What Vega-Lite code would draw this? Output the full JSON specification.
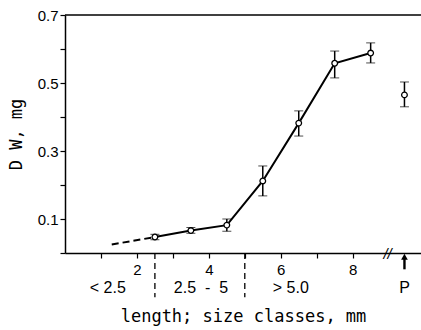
{
  "$schema": "https://vega.github.io/schema/vega-lite/v6.json",
  "width": 356,
  "height": 238,
  "autosize": "none",
  "padding": {"left": 65, "top": 15, "right": 0, "bottom": 77},
  "background": "white",
  "resolve": {"axis": {"x": "independent", "y": "independent"}},
  "config": {
    "view": {"stroke": null},
    "font": "Liberation Sans",
    "axis": {"domainColor": "black", "tickColor": "black", "labelColor": "black", "titleColor": "black", "grid": false, "domainWidth": 1.5, "tickWidth": 1.2, "tickSize": 5, "labelFontSize": 15, "titleFontSize": 17, "titleFontWeight": "normal", "labelFont": "Liberation Sans", "titleFont": "DejaVu Sans Mono"}
  },
  "datasets": {
    "main": [
      {"length": 2.5, "dw": 0.047, "lo": 0.039, "hi": 0.055},
      {"length": 3.5, "dw": 0.066, "lo": 0.058, "hi": 0.075},
      {"length": 4.5, "dw": 0.082, "lo": 0.064, "hi": 0.100},
      {"length": 5.5, "dw": 0.212, "lo": 0.168, "hi": 0.256},
      {"length": 6.5, "dw": 0.382, "lo": 0.344, "hi": 0.418},
      {"length": 7.5, "dw": 0.558, "lo": 0.515, "hi": 0.594},
      {"length": 8.5, "dw": 0.588, "lo": 0.559, "hi": 0.618}
    ],
    "pooled": [
      {"length": 9.44, "dw": 0.465, "lo": 0.430, "hi": 0.503}
    ],
    "extrap": [
      {"length": 1.3, "dw": 0.025},
      {"length": 2.5, "dw": 0.047}
    ],
    "dividers": [
      {"length": 2.5, "top": 0, "bottom": -0.13},
      {"length": 5.0, "top": 0, "bottom": -0.13}
    ],
    "classes": [
      {"length": 1.19, "pos": -0.103, "label": "< 2.5"},
      {"length": 3.78, "pos": -0.103, "label": "2.5\u00a0\u00a0-\u00a0\u00a05"},
      {"length": 6.28, "pos": -0.103, "label": "> 5.0"},
      {"length": 9.44, "pos": -0.103, "label": "P"}
    ]
  },
  "layer": [
    {
      "data": {"name": "main"},
      "mark": {"type": "line", "color": "black", "strokeWidth": 2},
      "encoding": {
        "x": {"field": "length", "type": "quantitative", "scale": {"domain": [0, 9.9], "nice": false, "zero": false},
          "axis": {"values": [1, 2, 3, 4, 5, 6, 7, 8], "labelExpr": "datum.value % 2 == 0 ? datum.label : ''", "title": "length; size classes, mm", "titlePadding": 31, "labelPadding": 4}},
        "y": {"field": "dw", "type": "quantitative", "scale": {"domain": [0, 0.7], "nice": false},
          "axis": {"values": [0, 0.1, 0.2, 0.3, 0.4, 0.5, 0.6, 0.7], "labelExpr": "round(datum.value * 10) % 2 == 1 ? datum.label : ''", "title": "D W, mg", "titlePadding": 12}}
      }
    },
    {
      "data": {"values": [{"v": 0.7}]},
      "mark": {"type": "rule", "color": "black", "strokeWidth": 1.5},
      "encoding": {"y": {"field": "v", "type": "quantitative", "axis": null}}
    },
    {
      "data": {"name": "extrap"},
      "mark": {"type": "line", "color": "black", "strokeWidth": 2, "strokeDash": [7, 4]},
      "encoding": {
        "x": {"field": "length", "type": "quantitative", "axis": null},
        "y": {"field": "dw", "type": "quantitative", "axis": null}
      }
    },
    {
      "data": {"name": "main"},
      "mark": {"type": "errorbar", "ticks": {"size": 9, "color": "black", "strokeWidth": 1.5}, "rule": {"color": "black", "strokeWidth": 1.5}},
      "encoding": {
        "x": {"field": "length", "type": "quantitative", "axis": null},
        "y": {"field": "lo", "type": "quantitative", "axis": null},
        "y2": {"field": "hi"}
      }
    },
    {
      "data": {"name": "pooled"},
      "mark": {"type": "errorbar", "ticks": {"size": 9, "color": "black", "strokeWidth": 1.5}, "rule": {"color": "black", "strokeWidth": 1.5}},
      "encoding": {
        "x": {"field": "length", "type": "quantitative", "axis": null},
        "y": {"field": "lo", "type": "quantitative", "axis": null},
        "y2": {"field": "hi"}
      }
    },
    {
      "data": {"name": "main"},
      "mark": {"type": "point", "shape": "circle", "size": 32, "filled": true, "fill": "white", "stroke": "black", "strokeWidth": 1.3, "opacity": 1},
      "encoding": {
        "x": {"field": "length", "type": "quantitative", "axis": null},
        "y": {"field": "dw", "type": "quantitative", "axis": null}
      }
    },
    {
      "data": {"name": "pooled"},
      "mark": {"type": "point", "shape": "circle", "size": 32, "filled": true, "fill": "white", "stroke": "black", "strokeWidth": 1.3, "opacity": 1},
      "encoding": {
        "x": {"field": "length", "type": "quantitative", "axis": null},
        "y": {"field": "dw", "type": "quantitative", "axis": null}
      }
    },
    {
      "data": {"name": "dividers"},
      "mark": {"type": "rule", "color": "black", "strokeWidth": 1.3, "strokeDash": [6, 4]},
      "encoding": {
        "x": {"field": "length", "type": "quantitative", "axis": null},
        "y": {"field": "top", "type": "quantitative", "axis": null},
        "y2": {"field": "bottom"}
      }
    },
    {
      "data": {"name": "classes"},
      "mark": {"type": "text", "fontSize": 16, "font": "Liberation Sans", "color": "black", "baseline": "middle", "align": "center"},
      "encoding": {
        "x": {"field": "length", "type": "quantitative", "axis": null},
        "y": {"field": "pos", "type": "quantitative", "axis": null},
        "text": {"field": "label"}
      }
    },
    {
      "data": {"values": [{"length": 9.44, "a": -0.015, "b": -0.048}]},
      "mark": {"type": "rule", "color": "black", "strokeWidth": 2.4},
      "encoding": {
        "x": {"field": "length", "type": "quantitative", "axis": null},
        "y": {"field": "a", "type": "quantitative", "axis": null},
        "y2": {"field": "b"}
      }
    },
    {
      "data": {"values": [{"length": 9.44, "a": -0.011}]},
      "mark": {"type": "point", "shape": "triangle-up", "size": 45, "filled": true, "color": "black", "opacity": 1},
      "encoding": {
        "x": {"field": "length", "type": "quantitative", "axis": null},
        "y": {"field": "a", "type": "quantitative", "axis": null}
      }
    },
    {
      "data": {"values": [{"length": 8.97, "a": 0, "t": "//"}]},
      "mark": {"type": "text", "fontSize": 15, "font": "Liberation Sans", "color": "black", "baseline": "middle", "align": "center", "fontStyle": "italic", "dy": 1},
      "encoding": {
        "x": {"field": "length", "type": "quantitative", "axis": null},
        "y": {"field": "a", "type": "quantitative", "axis": null},
        "text": {"field": "t"}
      }
    }
  ]
}
